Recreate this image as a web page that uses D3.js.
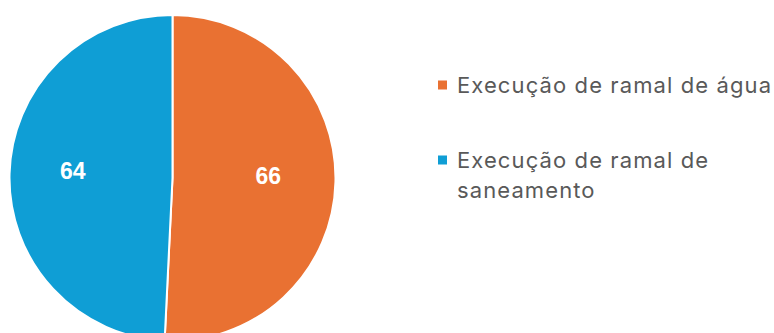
<!DOCTYPE html>
<html>
<head>
<meta charset="utf-8">
<script src="https://cdn.jsdelivr.net/npm/d3@7/dist/d3.min.js"></script>
<style>
  html, body { margin: 0; padding: 0; background: #ffffff; }
  svg { display: block; }
</style>
</head>
<body>
<svg id="chart" width="774" height="333"></svg>
<script>
// Service types and their counts
const categories = ["Execução de ramal de água", "Execução de ramal de saneamento"];
const values = [66, 64];
const colors = ["#E97132", "#0F9ED5"];
// Legend lines (second entry wraps onto two lines)
const legendLines = [["Execução de ramal de água"], ["Execução de ramal de", "saneamento"]];

const svg = d3.select("#chart");

const cx = 172.5, cy = 178, radius = 163;

const data = categories.map((c, i) => ({ category: c, value: values[i], color: colors[i] }));

const pie = d3.pie().value(d => d.value).sort(null);
const arcs = pie(data);

const arc = d3.arc().innerRadius(0).outerRadius(radius);
const labelArc = d3.arc().innerRadius(radius * 0.6).outerRadius(radius * 0.6);

const g = svg.append("g").attr("transform", `translate(${cx},${cy})`);

g.selectAll("path.slice")
  .data(arcs)
  .join("path")
  .attr("class", "slice")
  .attr("d", arc)
  .attr("fill", d => d.data.color)
  .attr("stroke", "#ffffff")
  .attr("stroke-width", 2)
  .attr("stroke-linejoin", "round");

g.selectAll("text.value")
  .data(arcs)
  .join("text")
  .attr("class", "value")
  .attr("transform", d => {
    const [x, y] = labelArc.centroid(d);
    return `translate(${x - 2},${y - 5})`;
  })
  .attr("text-anchor", "middle")
  .attr("dy", "0.36em")
  .attr("font-family", "Liberation Sans, Arial, sans-serif")
  .attr("font-weight", "bold")
  .attr("font-size", 23)
  .attr("fill", "#ffffff")
  .text(d => d.data.value);

// Legend
const legend = svg.append("g").attr("transform", "translate(438,0)");
const legendY = [85, 160];
const lineGap = 30;

data.forEach((d, i) => {
  const item = legend.append("g").attr("transform", `translate(0,${legendY[i]})`);
  item.append("rect")
    .attr("x", 0)
    .attr("y", -4.5)
    .attr("width", 9)
    .attr("height", 9)
    .attr("fill", d.color);
  const t = item.append("text")
    .attr("font-family", "Inter, sans-serif")
    .attr("font-size", 22)
    .attr("letter-spacing", 1.1)
    .attr("fill", "#595959");
  legendLines[i].forEach((line, j) => {
    t.append("tspan")
      .attr("x", 19)
      .attr("y", j * lineGap)
      .attr("dy", "0.35em")
      .text(line);
  });
});
</script>
</body>
</html>
